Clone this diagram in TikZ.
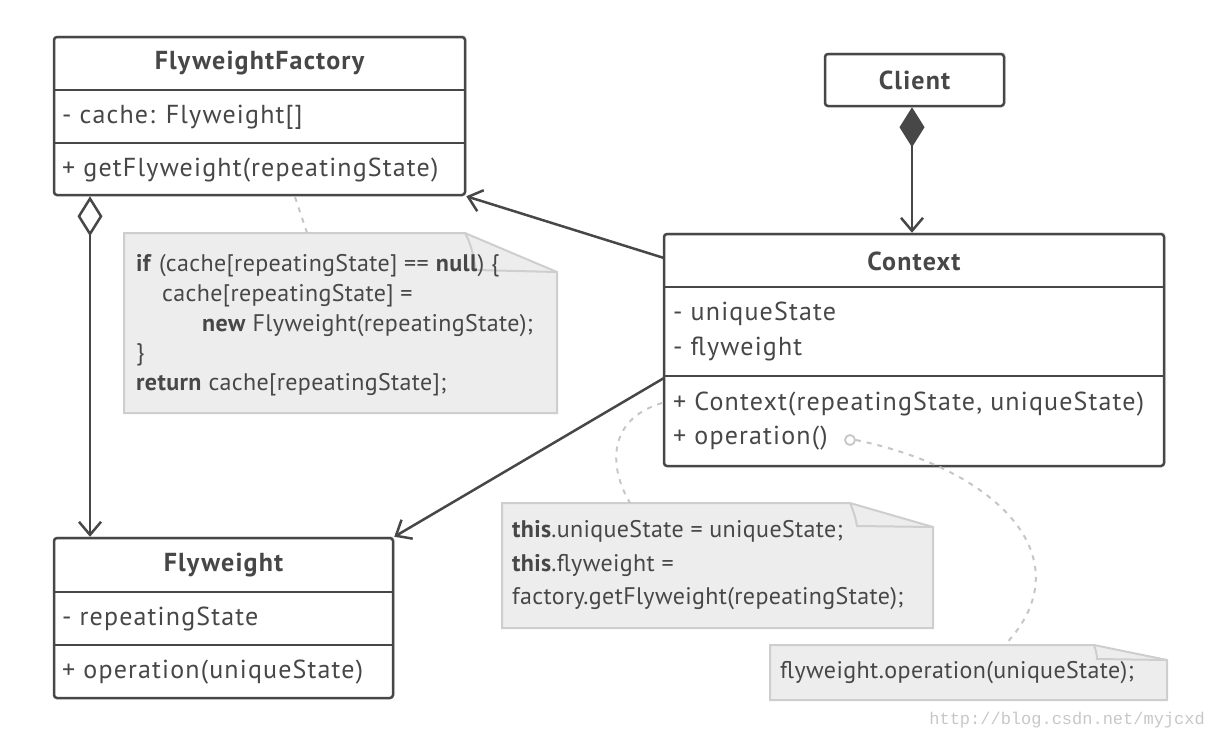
\documentclass[tikz,border=0pt]{standalone}
\usepackage{fontspec}
\setmainfont{PT Sans}
\newfontfamily\wmfont{Liberation Mono}
\usetikzlibrary{arrows.meta,shadows,calc}
\definecolor{ink}{HTML}{474747}
\definecolor{notefill}{HTML}{EDEDED}
\definecolor{noteline}{HTML}{CECECE}
\definecolor{dashc}{HTML}{C6C6C6}
\tikzset{
  cls/.style={draw=ink, line width=2.5pt, fill=white, rounded corners=3pt, inner sep=0pt,
    drop shadow={shadow xshift=2pt, shadow yshift=2pt, opacity=0.12}},
  divider/.style={draw=ink, line width=2.5pt},
  hdr/.style={text=ink, font=\fontsize{26}{30}\selectfont\addfontfeature{LetterSpace=4.5}\bfseries, inner sep=0pt},
  mem/.style={text=ink, font=\fontsize{26}{30}\selectfont\addfontfeature{LetterSpace=4.5}, inner sep=0pt, anchor=west},
  notetxt/.style={text=ink, font=\fontsize{24}{28}\selectfont\addfontfeature{LetterSpace=1.5}, inner sep=0pt, anchor=west},
  notebox/.style={inner sep=0pt},
  conn/.style={draw=ink, line width=2.5pt},
  openhead/.style={-{Straight Barb[length=13pt, width=22pt, line width=2.5pt]}},
  dashconn/.style={draw=dashc, line width=2pt, dash pattern=on 5pt off 6pt},
}
\begin{document}
\begin{tikzpicture}[x=1pt, y=-1pt]
\useasboundingbox (0,0) rectangle (1210,740);

% ---------- FlyweightFactory ----------
\node[cls, minimum width=411pt, minimum height=158pt] (ff) at (259.5,116) {};
\draw[divider] (54,90) -- (465,90);
\draw[divider] (54,143) -- (465,143);
\node[hdr] (ffname) at (259.5,63) {FlyweightFactory};
\node[mem] (ffa) at (62,117) {- cache: Flyweight[]};
\node[mem] (ffm) at (62,170) {+ getFlyweight(repeatingState)};

% ---------- Client ----------
\node[cls, minimum width=179pt, minimum height=52pt] (cl) at (914.5,80) {};
\node[hdr] (clname) at (914.5,80) {Client};

% ---------- Context ----------
\node[cls, minimum width=500pt, minimum height=232pt] (ctx) at (914,350) {};
\draw[divider] (664,287) -- (1164,287);
\draw[divider] (664,376) -- (1164,376);
\node[hdr] (ctxname) at (914,261) {Context};
\node[mem] (ctxa1) at (673,314) {- uniqueState};
\node[mem] (ctxa2) at (673,349) {- flyweight};
\node[mem] (ctxm1) at (673,404) {+ Context(repeatingState, uniqueState)};
\node[mem] (ctxm2) at (673,438) {+ operation()};

% ---------- Flyweight ----------
\node[cls, minimum width=339pt, minimum height=160pt] (fw) at (223.5,618) {};
\draw[divider] (54,592) -- (393,592);
\draw[divider] (54,645) -- (393,645);
\node[hdr] (fwname) at (223.5,565) {Flyweight};
\node[mem] (fwa) at (62,619) {- repeatingState};
\node[mem] (fwm) at (62,672) {+ operation(uniqueState)};

% ---------- Notes ----------
% note 1
\node[notebox, minimum width=433pt, minimum height=180pt] (n1) at (340.5,323) {};
\fill[notefill] (124,233) -- (465,233) -- (557,272) -- (557,413) -- (124,413) -- cycle;
\draw[noteline, line width=2pt] (124,233) -- (465,233) -- (557,272) -- (557,413) -- (124,413) -- cycle;
\draw[noteline, line width=2pt] (465,233) .. controls (472,245) and (474,260) .. (476,270) -- (557,272);
\node[notetxt] (n1l1) at (136,266) {\textbf{if} (cache[repeatingState] == \textbf{null}) \{};
\node[notetxt] (n1l2) at (162,296) {cache[repeatingState] =};
\node[notetxt] (n1l3) at (202,326) {\textbf{new} Flyweight(repeatingState);};
\node[notetxt] (n1l4) at (136,355) {\}};
\node[notetxt] (n1l5) at (136,385) {\textbf{return} cache[repeatingState];};

% note 2
\node[notebox, minimum width=431pt, minimum height=125pt] (n2) at (717.5,565.5) {};
\fill[notefill] (502,503) -- (850,503) -- (933,527) -- (933,628) -- (502,628) -- cycle;
\draw[noteline, line width=2pt] (502,503) -- (850,503) -- (933,527) -- (933,628) -- (502,628) -- cycle;
\draw[noteline, line width=2pt] (850,503) .. controls (854,512) and (856,520) .. (857,526) -- (933,527);
\node[notetxt] (n2l1) at (512,531) {\textbf{this}.uniqueState = uniqueState;};
\node[notetxt] (n2l2) at (512,565) {\textbf{this}.flyweight =};
\node[notetxt] (n2l3) at (512,599) {factory.getFlyweight(repeatingState);};

% note 3
\node[notebox, minimum width=397pt, minimum height=55pt] (n3) at (968.5,672.5) {};
\fill[notefill] (770,645) -- (1094,645) -- (1167,660) -- (1167,700) -- (770,700) -- cycle;
\draw[noteline, line width=2pt] (770,645) -- (1094,645) -- (1167,660) -- (1167,700) -- (770,700) -- cycle;
\draw[noteline, line width=2pt] (1094,645) .. controls (1096,651) and (1097,655) .. (1097,659) -- (1167,660);
\node[notetxt] (n3l1) at (780,673) {flyweight.operation(uniqueState);};

% ---------- Dashed note connectors ----------
\coordinate (ffdash) at (295,197);
\draw[dashconn] (ffdash) -- (n1.north -| 307,0);
\coordinate (ctxdash) at (662,403);
\draw[dashconn] (ctxdash) .. controls (605,420) and (610,470) .. (n2.north -| 630,0);
\node[circle, draw=dashc, line width=1.8pt, fill=white, minimum size=10pt, inner sep=0pt] (opc) at (850,440) {};
\draw[dashconn] (opc.east) .. controls (1000,470) and (1085,560) .. (n3.north -| 1005,0);

% ---------- Relations ----------
\draw[conn, {Diamond[open, length=40pt, width=25pt, line width=2.5pt]}-{Straight Barb[length=13pt, width=22pt, line width=2.5pt]}]
  (ff.south -| 90,0) -- (fw.north -| 90,0);
\draw[conn, {Diamond[length=40pt, width=25pt, line width=2.5pt]}-{Straight Barb[length=13pt, width=22pt, line width=2.5pt]}]
  (cl.south -| 912,0) -- (ctx.north -| 912,0);
\coordinate (ctxl1) at (664,258);
\draw[conn, openhead] (ctxl1) -- (ff.south east);
\coordinate (ctxl2) at (664,378);
\draw[conn, openhead] (ctxl2) -- (fw.north east);

% watermark
\node[text=black!22, font=\wmfont\fontsize{17}{20}\selectfont, anchor=east, inner sep=0pt] (wm) at (1205,720) {http://blog.csdn.net/myjcxd};
\end{tikzpicture}
\end{document}
